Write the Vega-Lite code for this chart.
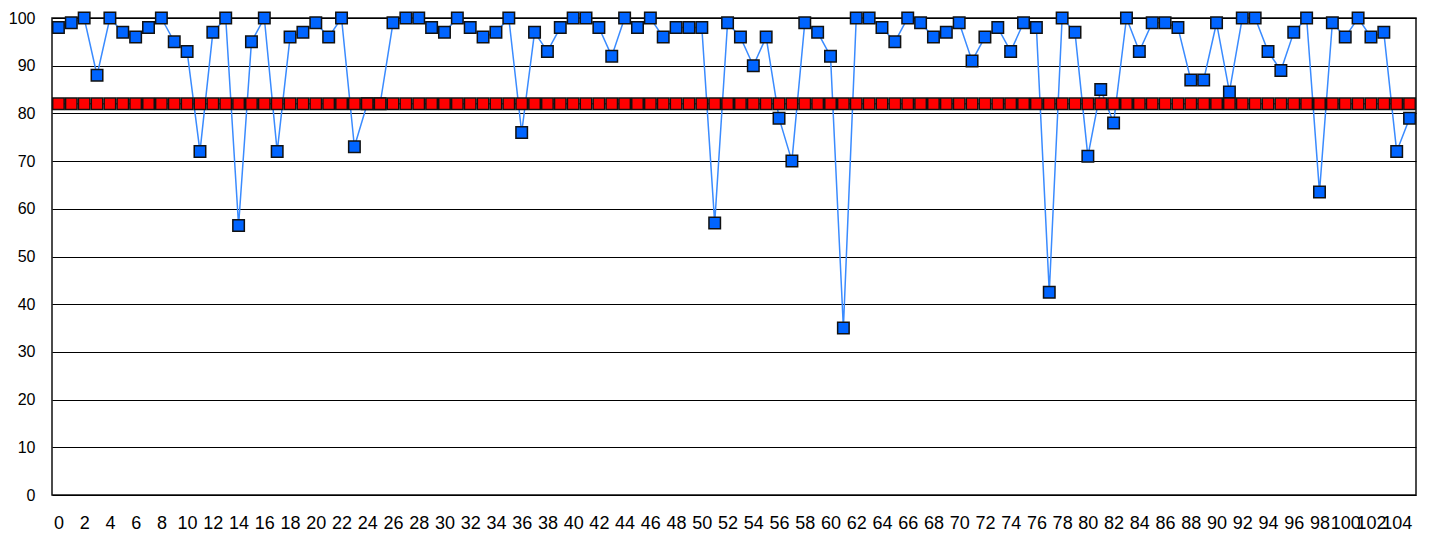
{
  "$schema": "https://vega.github.io/schema/vega-lite/v6.json",
  "width": 1364,
  "height": 477,
  "autosize": "none",
  "padding": {"left": 52, "top": 18, "right": 16, "bottom": 44},
  "background": "white",
  "config": {
    "view": {"stroke": "#111", "strokeWidth": 1.5},
    "font": "Liberation Sans"
  },
  "data": {
    "values": [
      {"x": 0, "a": 98, "b": 82}, {"x": 1, "a": 99, "b": 82}, {"x": 2, "a": 100, "b": 82}, {"x": 3, "a": 88, "b": 82},
      {"x": 4, "a": 100, "b": 82}, {"x": 5, "a": 97, "b": 82}, {"x": 6, "a": 96, "b": 82}, {"x": 7, "a": 98, "b": 82},
      {"x": 8, "a": 100, "b": 82}, {"x": 9, "a": 95, "b": 82}, {"x": 10, "a": 93, "b": 82}, {"x": 11, "a": 72, "b": 82},
      {"x": 12, "a": 97, "b": 82}, {"x": 13, "a": 100, "b": 82}, {"x": 14, "a": 56.5, "b": 82}, {"x": 15, "a": 95, "b": 82},
      {"x": 16, "a": 100, "b": 82}, {"x": 17, "a": 72, "b": 82}, {"x": 18, "a": 96, "b": 82}, {"x": 19, "a": 97, "b": 82},
      {"x": 20, "a": 99, "b": 82}, {"x": 21, "a": 96, "b": 82}, {"x": 22, "a": 100, "b": 82}, {"x": 23, "a": 73, "b": 82},
      {"x": 24, "a": 82, "b": 82}, {"x": 25, "a": 82, "b": 82}, {"x": 26, "a": 99, "b": 82}, {"x": 27, "a": 100, "b": 82},
      {"x": 28, "a": 100, "b": 82}, {"x": 29, "a": 98, "b": 82}, {"x": 30, "a": 97, "b": 82}, {"x": 31, "a": 100, "b": 82},
      {"x": 32, "a": 98, "b": 82}, {"x": 33, "a": 96, "b": 82}, {"x": 34, "a": 97, "b": 82}, {"x": 35, "a": 100, "b": 82},
      {"x": 36, "a": 76, "b": 82}, {"x": 37, "a": 97, "b": 82}, {"x": 38, "a": 93, "b": 82}, {"x": 39, "a": 98, "b": 82},
      {"x": 40, "a": 100, "b": 82}, {"x": 41, "a": 100, "b": 82}, {"x": 42, "a": 98, "b": 82}, {"x": 43, "a": 92, "b": 82},
      {"x": 44, "a": 100, "b": 82}, {"x": 45, "a": 98, "b": 82}, {"x": 46, "a": 100, "b": 82}, {"x": 47, "a": 96, "b": 82},
      {"x": 48, "a": 98, "b": 82}, {"x": 49, "a": 98, "b": 82}, {"x": 50, "a": 98, "b": 82}, {"x": 51, "a": 57, "b": 82},
      {"x": 52, "a": 99, "b": 82}, {"x": 53, "a": 96, "b": 82}, {"x": 54, "a": 90, "b": 82}, {"x": 55, "a": 96, "b": 82},
      {"x": 56, "a": 79, "b": 82}, {"x": 57, "a": 70, "b": 82}, {"x": 58, "a": 99, "b": 82}, {"x": 59, "a": 97, "b": 82},
      {"x": 60, "a": 92, "b": 82}, {"x": 61, "a": 35, "b": 82}, {"x": 62, "a": 100, "b": 82}, {"x": 63, "a": 100, "b": 82},
      {"x": 64, "a": 98, "b": 82}, {"x": 65, "a": 95, "b": 82}, {"x": 66, "a": 100, "b": 82}, {"x": 67, "a": 99, "b": 82},
      {"x": 68, "a": 96, "b": 82}, {"x": 69, "a": 97, "b": 82}, {"x": 70, "a": 99, "b": 82}, {"x": 71, "a": 91, "b": 82},
      {"x": 72, "a": 96, "b": 82}, {"x": 73, "a": 98, "b": 82}, {"x": 74, "a": 93, "b": 82}, {"x": 75, "a": 99, "b": 82},
      {"x": 76, "a": 98, "b": 82}, {"x": 77, "a": 42.5, "b": 82}, {"x": 78, "a": 100, "b": 82}, {"x": 79, "a": 97, "b": 82},
      {"x": 80, "a": 71, "b": 82}, {"x": 81, "a": 85, "b": 82}, {"x": 82, "a": 78, "b": 82}, {"x": 83, "a": 100, "b": 82},
      {"x": 84, "a": 93, "b": 82}, {"x": 85, "a": 99, "b": 82}, {"x": 86, "a": 99, "b": 82}, {"x": 87, "a": 98, "b": 82},
      {"x": 88, "a": 87, "b": 82}, {"x": 89, "a": 87, "b": 82}, {"x": 90, "a": 99, "b": 82}, {"x": 91, "a": 84.5, "b": 82},
      {"x": 92, "a": 100, "b": 82}, {"x": 93, "a": 100, "b": 82}, {"x": 94, "a": 93, "b": 82}, {"x": 95, "a": 89, "b": 82},
      {"x": 96, "a": 97, "b": 82}, {"x": 97, "a": 100, "b": 82}, {"x": 98, "a": 63.5, "b": 82}, {"x": 99, "a": 99, "b": 82},
      {"x": 100, "a": 96, "b": 82}, {"x": 101, "a": 100, "b": 82}, {"x": 102, "a": 96, "b": 82}, {"x": 103, "a": 97, "b": 82},
      {"x": 104, "a": 72, "b": 82}, {"x": 105, "a": 79, "b": 82}
    ]
  },
  "encoding": {
    "x": {
      "field": "x", "type": "quantitative",
      "scale": {"domain": [-0.5, 105.5], "nice": false, "zero": false},
      "axis": {
        "title": null, "grid": false, "ticks": false, "domain": false,
        "values": [0,2,4,6,8,10,12,14,16,18,20,22,24,26,28,30,32,34,36,38,40,42,44,46,48,50,52,54,56,58,60,62,64,66,68,70,72,74,76,78,80,82,84,86,88,90,92,94,96,98,100,102,104],
        "labelOverlap": false, "labelFlush": false, "labelFontSize": 18, "labelColor": "#000",
        "labelBaseline": "middle", "labelPadding": 28, "labelFont": "Liberation Sans"
      }
    }
  },
  "layer": [
    {
      "mark": {"type": "line", "color": "#3A8BFF", "strokeWidth": 1.5},
      "encoding": {
        "y": {
          "field": "a", "type": "quantitative",
          "scale": {"domain": [0, 100], "nice": false},
          "axis": {
            "title": null, "values": [0,10,20,30,40,50,60,70,80,90,100],
            "grid": true, "gridColor": "#000", "gridWidth": 1.2, "gridOpacity": 1,
            "ticks": false, "domain": false, "labelFontSize": 16, "labelColor": "#000",
            "labelPadding": 17, "labelFont": "Liberation Sans"
          }
        }
      }
    },
    {
      "mark": {"type": "point", "shape": "square", "filled": true, "size": 132, "fill": "#0064FF", "stroke": "#111", "strokeWidth": 1.5, "opacity": 1},
      "encoding": {"y": {"field": "a", "type": "quantitative"}}
    },
    {
      "mark": {"type": "line", "color": "#FF0000", "strokeWidth": 1.5},
      "encoding": {"y": {"field": "b", "type": "quantitative"}}
    },
    {
      "mark": {"type": "point", "shape": "square", "filled": true, "size": 132, "fill": "#FF0000", "stroke": "#111", "strokeWidth": 1.5, "opacity": 1},
      "encoding": {"y": {"field": "b", "type": "quantitative"}}
    }
  ]
}
